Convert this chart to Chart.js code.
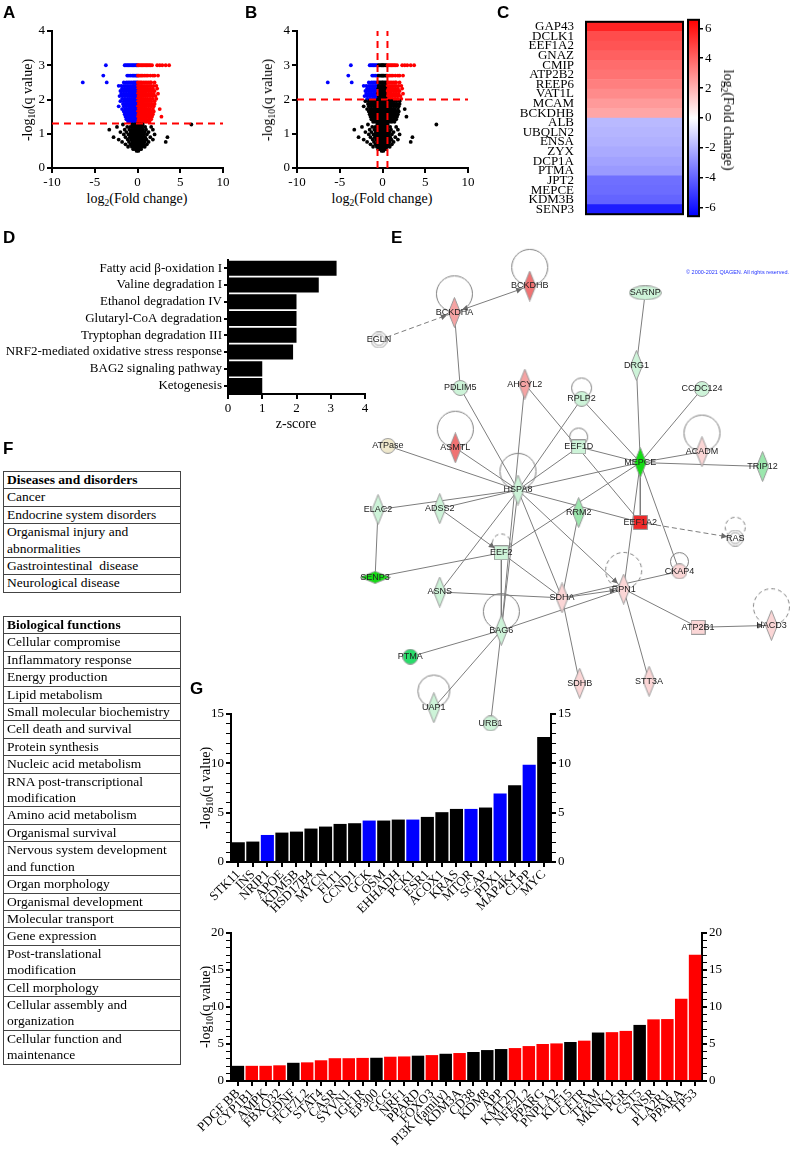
<!DOCTYPE html>
<html>
<head>
<meta charset="utf-8">
<script src="https://cdn.jsdelivr.net/npm/chart.js@4.4.1/dist/chart.umd.min.js"></script>
<style>
body{margin:0;background:#fff;}
#page{position:relative;width:796px;height:1152px;overflow:hidden;font-family:"Liberation Serif","Times New Roman",serif;color:#000;}
canvas{position:absolute;}
.lt{position:absolute;font:bold 17px/1 "Liberation Sans",Arial,sans-serif;}
.t{position:absolute;transform:translate(-50%,-50%);font-size:14px;line-height:1;white-space:nowrap;}
.t.rl{transform:translate(-50%,-50%) rotate(-90deg);}
.t.rr{transform:translate(-50%,-50%) rotate(90deg);}
sub{font-size:0.68em;vertical-align:-0.3em;line-height:0;}
table.f{position:absolute;left:3px;width:178px;border-collapse:collapse;font-size:13.5px;line-height:16.4px;}
table.f td{border:1px solid #444;padding:0 0 0 3px;white-space:nowrap;}
table.f td.h{font-weight:bold;}
.copy{position:absolute;left:686px;top:270px;font:5.5px/1 "Liberation Sans",Arial,sans-serif;color:#2233ff;white-space:nowrap;}
</style>
</head>
<body>
<div id="page">
<canvas id="cA" width="212" height="170" style="left:20px;top:20px"></canvas>
<canvas id="cB" width="212" height="170" style="left:265px;top:20px"></canvas>
<canvas id="cHeat" width="186" height="216" style="left:500px;top:10px"></canvas>
<canvas id="cScale" width="44" height="216" style="left:676px;top:10px"></canvas>
<canvas id="cD" width="375" height="174" style="left:0px;top:250px"></canvas>
<canvas id="cNet" width="466" height="520" style="left:330px;top:230px"></canvas>
<canvas id="cG1" width="410" height="217" style="left:170px;top:700px"></canvas>
<canvas id="cG2" width="561" height="231" style="left:170px;top:920px"></canvas>

<div class="t rl" style="left:28px;top:100px">-log<sub>10</sub>(q value)</div>
<div class="t" style="left:137px;top:199px">log<sub>2</sub>(Fold change)</div>
<div class="t rl" style="left:268px;top:100px">-log<sub>10</sub>(q value)</div>
<div class="t" style="left:382px;top:199px">log<sub>2</sub>(Fold change)</div>
<div class="t rr" style="left:728px;top:120px">log<sub>2</sub>(Fold change)</div>
<div class="t" style="left:296px;top:424px">z-score</div>
<div class="t rl" style="left:206px;top:788px">-log<sub>10</sub>(q value)</div>
<div class="t rl" style="left:206px;top:1007px">-log<sub>10</sub>(q value)</div>
<div class="copy">© 2000-2021 QIAGEN. All rights reserved.</div>

<table class="f" style="top:471px">
<tr><td class="h">Diseases and disorders</td></tr>
<tr><td>Cancer</td></tr>
<tr><td>Endocrine system disorders</td></tr>
<tr><td>Organismal injury and<br>abnormalities</td></tr>
<tr><td>Gastrointestinal&nbsp; disease</td></tr>
<tr><td>Neurological disease</td></tr>
</table>
<table class="f" style="top:616px">
<tr><td class="h">Biological functions</td></tr>
<tr><td>Cellular compromise</td></tr>
<tr><td>Inflammatory response</td></tr>
<tr><td>Energy production</td></tr>
<tr><td>Lipid metabolism</td></tr>
<tr><td>Small molecular biochemistry</td></tr>
<tr><td>Cell death and survival</td></tr>
<tr><td>Protein synthesis</td></tr>
<tr><td>Nucleic acid metabolism</td></tr>
<tr><td>RNA post-transcriptional<br>modification</td></tr>
<tr><td>Amino acid metabolism</td></tr>
<tr><td>Organismal survival</td></tr>
<tr><td>Nervous system development<br>and function</td></tr>
<tr><td>Organ morphology</td></tr>
<tr><td>Organismal development</td></tr>
<tr><td>Molecular transport</td></tr>
<tr><td>Gene expression</td></tr>
<tr><td>Post-translational<br>modification</td></tr>
<tr><td>Cell morphology</td></tr>
<tr><td>Cellular assembly and<br>organization</td></tr>
<tr><td>Cellular function and<br>maintenance</td></tr>
</table>

<div class="lt" style="left:3px;top:4px">A</div>
<div class="lt" style="left:245px;top:4px">B</div>
<div class="lt" style="left:497px;top:4px">C</div>
<div class="lt" style="left:3px;top:229px">D</div>
<div class="lt" style="left:391px;top:229px">E</div>
<div class="lt" style="left:3px;top:440px">F</div>
<div class="lt" style="left:190px;top:680px">G</div>
</div>

<script>
// ---- data ----
// volcano: rows of [ -log10(q), [log2 fold changes] ]
var volcanoRows = [
  [3.0, [-3.7,-1.5,-1.35,-1.2,-1.05,-0.9,-0.75,-0.6,-0.45,-0.3,-0.15,-0.05,0.05,0.15,0.3,0.45,0.6,0.75,0.9,1.05,1.2,1.35,1.5,1.7,2.3,2.6,2.9,3.3,3.7]],
  [2.7, [-4.0,-1.2,-1.0,-0.8,-0.6,-0.45,-0.3,-0.15,-0.05,0.05,0.15,0.3,0.45,0.6,0.8,1.0,1.2,1.5,1.8,2.0,2.4]],
  [2.5, [-6.4,-3.6,-1.6,-1.3,-1.1,-0.9,-0.7,-0.5,-0.35,-0.2,-0.05,0.05,0.2,0.35,0.5,0.7,0.9,1.1,1.3,1.5,1.6,2.0]],
  [2.4, [-2.2,-1.9,-1.6,-1.4,-1.2,-1.0,-0.8,-0.6,-0.45,-0.3,-0.15,-0.05,0.05,0.15,0.3,0.45,0.6,0.8,1.0,1.2,1.4,1.6,1.9,2.2]],
  [2.32, [-1.8,-1.5,-1.2,-0.95,-0.7,-0.5,-0.35,-0.2,-0.08,0.08,0.2,0.35,0.5,0.7,0.95,1.2,1.5,1.8,2.3]],
  [2.25, [-2.0,-1.7,-1.4,-1.1,-0.85,-0.6,-0.4,-0.25,-0.1,0.1,0.25,0.4,0.6,0.85,1.1,1.4,1.7,2.0]],
  [2.17, [-1.9,-1.6,-1.3,-1.0,-0.75,-0.55,-0.35,-0.18,-0.05,0.05,0.18,0.35,0.55,0.75,1.0,1.3,1.6,1.9,2.4]],
  [2.1, [-2.1,-1.75,-1.45,-1.15,-0.9,-0.65,-0.45,-0.28,-0.12,0.12,0.28,0.45,0.65,0.9,1.15,1.45,1.75,2.1]],
  [2.02, [-1.8,-1.5,-1.2,-0.95,-0.7,-0.5,-0.32,-0.16,-0.04,0.04,0.16,0.32,0.5,0.7,0.95,1.2,1.5,1.8,2.2]],
  [1.95, [-2.0,-1.6,-1.3,-1.05,-0.8,-0.6,-0.4,-0.22,-0.08,0.08,0.22,0.4,0.6,0.8,1.05,1.3,1.6,2.0]],
  [1.87, [-1.7,-1.4,-1.15,-0.9,-0.68,-0.48,-0.3,-0.14,0.14,0.3,0.48,0.68,0.9,1.15,1.4,1.7,2.0]],
  [1.8, [-2.2,-1.6,-1.3,-1.0,-0.78,-0.56,-0.38,-0.2,-0.06,0.06,0.2,0.38,0.56,0.78,1.0,1.3,1.6,1.9]],
  [1.72, [-1.8,-1.45,-1.15,-0.9,-0.66,-0.46,-0.28,-0.12,0.12,0.28,0.46,0.66,0.9,1.15,1.45,1.8,2.6]],
  [1.65, [-1.6,-1.3,-1.02,-0.78,-0.56,-0.38,-0.2,-0.06,0.06,0.2,0.38,0.56,0.78,1.02,1.3,1.6,1.9]],
  [1.57, [-1.5,-1.2,-0.92,-0.68,-0.46,-0.28,-0.12,0.12,0.28,0.46,0.68,0.92,1.2,1.5,1.8]],
  [1.5, [-1.4,-1.1,-0.84,-0.6,-0.4,-0.22,-0.06,0.06,0.22,0.4,0.6,0.84,1.1,1.4,1.7,2.8]],
  [1.42, [-1.3,-1.0,-0.75,-0.52,-0.32,-0.14,0.14,0.32,0.52,0.75,1.0,1.3,1.6]],
  [1.35, [-1.1,-0.85,-0.62,-0.42,-0.24,-0.08,0.08,0.24,0.42,0.62,0.85,1.1,1.4]],
  [1.27, [-1.7,-0.6,-0.35,-0.15,0.0,0.15,0.35,0.6,6.3]],
  [1.2, [-2.4,-1.2,-0.85,-0.55,-0.3,-0.1,0.1,0.3,0.55,0.9,1.6]],
  [1.12, [-3.3,-1.5,-0.95,-0.65,-0.4,-0.2,0.0,0.2,0.4,0.65,1.0,1.8]],
  [1.05, [-2.0,-1.3,-0.8,-0.5,-0.28,-0.08,0.12,0.32,0.55,0.85,1.3]],
  [0.98, [-1.6,-1.05,-0.7,-0.42,-0.18,0.02,0.22,0.45,0.75,1.1,2.0]],
  [0.9, [-2.8,-1.4,-0.9,-0.58,-0.32,-0.1,0.1,0.32,0.58,0.9,1.5,3.5]],
  [0.83, [-2.2,-1.15,-0.75,-0.46,-0.22,0.0,0.2,0.42,0.7,1.05,1.8]],
  [0.76, [-1.8,-1.0,-0.62,-0.36,-0.12,0.1,0.32,0.56,0.85,1.3,3.3]],
  [0.69, [-1.4,-0.82,-0.5,-0.25,-0.02,0.2,0.44,0.7,1.1]],
  [0.62, [-1.1,-0.66,-0.38,-0.14,0.08,0.3,0.55,0.85]],
  [0.55, [-0.5,-0.25,-0.02,0.2,0.42]],
  [0.5, [-0.1,0.1]]
];
var qCutA = 1.3, qCutB = 2, fcCutB = 0.58;

var heatGenes = ["GAP43","DCLK1","EEF1A2","GNAZ","CMIP","ATP2B2","REEP6","VAT1L","MCAM","BCKDHB",
                 "ALB","UBQLN2","ENSA","ZYX","DCP1A","PTMA","JPT2","MEPCE","KDM3B","SENP3"];
var heatFold = [5.7,4.6,4.4,4.1,3.8,3.6,3.3,3.0,2.6,2.3,-1.8,-1.9,-2.0,-2.2,-2.4,-2.6,-3.7,-3.8,-4.0,-5.8];
var foldLimit = 6.57;
var foldTicks = [-6,-5,-4,-3,-2,-1,0,1,2,3,4,5,6];

var pathways = ["Fatty acid \u03b2-oxidation I","Valine degradation I","Ethanol degradation IV","Glutaryl-CoA degradation",
                "Tryptophan degradation III","NRF2-mediated oxidative stress response","BAG2 signaling pathway","Ketogenesis"];
var zScores = [3.17,2.65,2.0,2.0,2.0,1.9,1.0,1.0];

var topGenes = ["STK11","INS","NRIP1","APOE","KDM5B","HSD17B4","MYCN","FLT1","CCND1","GCK","OSM","EHHADH",
                "PCK1","ESR1","ACOX1","KRAS","MTOR","SCAP","PDX1","MAP4K4","CLPP","MYC"];
var topQ = [2.0,2.07,2.74,2.98,3.08,3.39,3.59,3.86,3.93,4.2,4.2,4.3,4.3,4.57,5.05,5.38,5.38,5.52,6.94,7.79,9.85,12.66];
var topKind = ["n","n","b","n","n","n","n","n","n","b","n","n","b","n","n","n","b","n","b","n","b","n"];

var botGenes = ["PDGF BB","CYP1B1","AMPK","FBXO32","GDNF","TCF7L2","STAT4","CASR","SYVN1","IGF1R","EP300","GCG",
                "NRF1","PPARD","FOXO3","PI3K (family)","KDM3A","CD38","KDM8","APP","KMT2D","NFE2L2","PPARG",
                "PNPLA2","KLF15","CFTR","TFAM","MKNK1","PGR","CST5","INSR","PLA2R1","PPARA","TP53"];
var botQ = [2.05,2.05,2.05,2.12,2.46,2.52,2.8,3.08,3.08,3.12,3.14,3.28,3.32,3.42,3.5,3.68,3.78,3.92,4.18,4.32,
            4.45,4.72,5.0,5.08,5.27,5.45,6.55,6.6,6.77,7.58,8.33,8.37,11.1,17.05];
var botKind = ["n","r","r","r","n","r","r","r","r","r","n","r","r","n","r","n","r","n","n","n","r","r","r",
               "r","n","r","n","r","r","n","r","r","r","r"];

// network: [name, x, y, shape, tone] in layout units of panel E
var netNodes = [
  ["BCKDHB",199,52,"diamond","red2"],["BCKDHA",122,79,"diamond","red1"],["EGLN",45,107,"ring","white"],
  ["SARNP",317,59,"ellipse","green1"],["DRG1",308,133,"diamond","green1"],["PDLIM5",128,156,"circle","green1"],
  ["AHCYL2",194,152,"diamond","red1"],["RPLP2",252,167,"circle","green1"],["CCDC124",375,157,"circle","green1"],
  ["ATPase",54,215,"circle","beige"],["ASMTL",123,217,"diamond","red2"],["EEF1D",249,216,"square","green1"],
  ["MEPCE",312,232,"diamond","green3"],["ACADM",375,221,"diamond","pink"],["TRIP12",437,236,"diamond","green2"],
  ["HSPA8",187,260,"diamond","green1"],["ELAC2",44,280,"diamond","green1"],["ADSS2",107,279,"diamond","green1"],
  ["RRM2",249,283,"diamond","green2"],["EEF1A2",312,293,"square","red3"],["RAS",409,309,"ring","white"],
  ["EEF2",170,324,"square","green1"],["SENP3",41,349,"hdiamond","green3"],["CKAP4",352,343,"circle","pink"],
  ["ASNS",107,364,"diamond","green1"],["SDHA",232,370,"diamond","pink"],["RPN1",295,361,"diamond","pink"],
  ["BAG6",170,403,"diamond","green1"],["ATP2B1",371,400,"square","pink"],["HACD3",446,398,"diamond","pink"],
  ["PTMA",77,430,"circle","green4"],["SDHB",250,457,"diamond","pink"],["STT3A",321,455,"diamond","pink"],
  ["UAP1",101,482,"diamond","green1"],["URB1",159,498,"circle","green1"]
];
// edges: [from, to, style]  "" solid, "a" arrow, "d" dashed, "da" dashed arrow, "aa" both ends
var netEdges = [
  ["BCKDHA","BCKDHB","aa"],["EGLN","BCKDHA","da"],["BCKDHA","PDLIM5",""],["PDLIM5","HSPA8",""],
  ["AHCYL2","BAG6",""],["AHCYL2","EEF1A2",""],["RPLP2","HSPA8",""],["RPLP2","MEPCE",""],
  ["SARNP","DRG1",""],["DRG1","MEPCE",""],["CCDC124","MEPCE",""],["ATPase","HSPA8",""],
  ["ASMTL","HSPA8",""],["EEF1D","HSPA8",""],["EEF1D","MEPCE",""],["MEPCE","ACADM",""],
  ["MEPCE","TRIP12",""],["MEPCE","HSPA8",""],["MEPCE","EEF1A2",""],["MEPCE","EEF2",""],
  ["MEPCE","CKAP4",""],["MEPCE","RPN1",""],["HSPA8","ELAC2",""],["HSPA8","ADSS2",""],
  ["HSPA8","EEF1A2",""],["HSPA8","ASNS",""],["HSPA8","BAG6",""],["HSPA8","SDHA",""],
  ["HSPA8","RPN1","a"],["ADSS2","EEF2","a"],["ELAC2","SENP3",""],["SENP3","EEF2",""],
  ["EEF2","BAG6",""],["EEF2","SDHA",""],["RRM2","SDHA",""],["EEF1A2","RAS","da"],
  ["ASNS","SDHA",""],["SDHA","RPN1","a"],["SDHA","CKAP4",""],["SDHA","SDHB",""],
  ["RPN1","STT3A",""],["RPN1","ATP2B1",""],["RPN1","BAG6",""],["ATP2B1","HACD3","a"],
  ["PTMA","BAG6",""],["BAG6","UAP1",""],["BAG6","URB1",""]
];
// self loops: [node, radius, dashed]
var netLoops = [
  ["BCKDHB",18,false],["BCKDHA",18,false],["RPLP2",10,false],["ASMTL",18,false],["EEF1D",9,false],
  ["ACADM",18,false],["HSPA8",18,false],["EEF2",9,true],["RAS",10,true],["CKAP4",9,false],
  ["RPN1",18,true],["BAG6",18,false],["HACD3",18,true],["UAP1",16,false]
];

// ---- setup ----
Chart.defaults.font.family = '"Liberation Serif","Times New Roman",serif';
Chart.defaults.font.size = 13;
Chart.defaults.color = "#000";
Chart.defaults.animation = false;
Chart.defaults.responsive = false;
Chart.defaults.plugins.legend.display = false;
Chart.defaults.plugins.tooltip.enabled = false;

function axis(o) {
  var r = Object.assign({}, o);
  r.border = Object.assign({color: "#000", width: 2}, o.border || {});
  r.grid = Object.assign({drawOnChartArea: false, drawTicks: true, tickLength: 5, color: "#000", lineWidth: 2}, o.grid || {});
  r.ticks = Object.assign({color: "#000", padding: 2, font: {size: 13}}, o.ticks || {});
  return r;
}

var framePlugin = {
  id: "frame",
  afterDatasetsDraw: function(chart) {
    var a = chart.chartArea, c = chart.ctx;
    c.save(); c.strokeStyle = "#000"; c.lineWidth = 2;
    c.strokeRect(a.left, a.top, a.right - a.left, a.bottom - a.top);
    c.restore();
  }
};

function foldColor(v) {
  var t = Math.min(1, Math.abs(v) / foldLimit), k = Math.round(255 * (1 - t));
  return v > 0 ? "rgb(255," + k + "," + k + ")" : "rgb(" + k + "," + k + ",255)";
}

// ---- A, B volcano ----
var volcanoPoints = [];
volcanoRows.forEach(function(row) {
  row[1].forEach(function(x) { volcanoPoints.push({x: x, y: row[0]}); });
});

function volcano(id, yCut, xCut, lines) {
  var cols = volcanoPoints.map(function(p) {
    if (p.y > yCut && p.x < -xCut) return "#0000ff";
    if (p.y > yCut && p.x > xCut) return "#ff0000";
    return "#000000";
  });
  var sets = [{data: volcanoPoints, pointBackgroundColor: cols, pointBorderWidth: 0, pointRadius: 1.9, order: 2}];
  lines.forEach(function(l) {
    sets.push({data: l, showLine: true, borderColor: "#ff0000", borderWidth: 2, borderDash: [7, 5], pointRadius: 0, order: 1});
  });
  new Chart(document.getElementById(id), {
    type: "scatter",
    data: {datasets: sets},
    options: {
      layout: {padding: {top: 11, right: 9}},
      scales: {
        x: axis({min: -10, max: 10, ticks: {stepSize: 5}, afterFit: function(s) { s.height = 22; }}),
        y: axis({min: 0, max: 4, ticks: {stepSize: 1}, afterFit: function(s) { s.width = 32; }})
      }
    }
  });
}
volcano("cA", qCutA, 0, [[{x: -10, y: qCutA}, {x: 10, y: qCutA}]]);
volcano("cB", qCutB, fcCutB, [
  [{x: -10, y: qCutB}, {x: 10, y: qCutB}],
  [{x: -fcCutB, y: 0}, {x: -fcCutB, y: 4}],
  [{x: fcCutB, y: 0}, {x: fcCutB, y: 4}]
]);

// ---- C heatmap + colour scale ----
new Chart(document.getElementById("cHeat"), {
  type: "bar",
  data: {labels: heatGenes, datasets: [{
    data: heatGenes.map(function() { return [0, 1]; }),
    backgroundColor: heatFold.map(foldColor),
    barPercentage: 1, categoryPercentage: 1, borderWidth: 0
  }]},
  options: {
    indexAxis: "y",
    layout: {padding: {top: 6, right: 3, bottom: 3}},
    scales: {
      x: {display: false, min: 0, max: 1},
      y: {grid: {display: false}, border: {display: false},
          ticks: {autoSkip: false, padding: 4, font: {size: 13}, color: "#000"},
          afterFit: function(s) { s.width = 86; }}
    }
  },
  plugins: [framePlugin]
});

new Chart(document.getElementById("cScale"), {
  type: "bar",
  data: {labels: [""], datasets: [{
    data: [[-foldLimit, foldLimit]],
    backgroundColor: function(ctx) {
      var ch = ctx.chart;
      if (!ch.chartArea) return "#fff";
      var y = ch.scales.y;
      var g = ch.ctx.createLinearGradient(0, y.getPixelForValue(foldLimit), 0, y.getPixelForValue(-foldLimit));
      g.addColorStop(0, "#ff0000"); g.addColorStop(0.5, "#ffffff"); g.addColorStop(1, "#0000ff");
      return g;
    },
    barPercentage: 1, categoryPercentage: 1, borderWidth: 0
  }]},
  options: {
    layout: {padding: {top: 6, left: 12, bottom: 3}},
    scales: {
      x: {display: false},
      y: axis({position: "right", min: -foldLimit, max: foldLimit,
        border: {display: false},
        grid: {tickLength: 4, lineWidth: function(ctx) { return ctx.tick && ctx.tick.value % 2 === 0 ? 1.5 : 1; }},
        ticks: {callback: function(v) { return v % 2 === 0 ? v : ""; }},
        afterBuildTicks: function(s) { s.ticks = foldTicks.map(function(v) { return {value: v}; }); },
        afterFit: function(s) { s.width = 21; }})
    }
  },
  plugins: [framePlugin]
});

// ---- D pathways ----
new Chart(document.getElementById("cD"), {
  type: "bar",
  data: {labels: pathways, datasets: [{data: zScores, backgroundColor: "#000", barPercentage: 1, categoryPercentage: 0.9}]},
  options: {
    indexAxis: "y",
    layout: {padding: {top: 9, right: 10}},
    scales: {
      x: axis({min: 0, max: 4, ticks: {stepSize: 1}, afterFit: function(s) { s.height = 30; }}),
      y: axis({grid: {offset: false, tickLength: 4}, ticks: {autoSkip: false, padding: 2},
               afterFit: function(s) { s.width = 228; }})
    }
  }
});

// ---- E network ----
var tones = {red3: "#ee2a2a", red2: "#f07272", red1: "#f5a3a3", pink: "#fbd6d6", green3: "#14dc14",
             green4: "#28dc6a", green2: "#9be7ad", green1: "#cdf3d8", white: "#ffffff", beige: "#efe8cc"};
var shapeSize = {diamond: [13, 31], hdiamond: [31, 13], circle: [16, 16], ellipse: [33, 15], square: [15, 15], ring: [17, 17]};

function shapeCanvas(kind, fill) {
  var d = shapeSize[kind], c = document.createElement("canvas");
  c.width = d[0]; c.height = d[1];
  var g = c.getContext("2d"), w = d[0] - 1, h = d[1] - 1, cx = d[0] / 2, cy = d[1] / 2;
  g.fillStyle = fill; g.strokeStyle = "#9a9a9a"; g.lineWidth = 1;
  g.beginPath();
  if (kind === "diamond" || kind === "hdiamond") {
    g.moveTo(cx, 0.5); g.lineTo(w + 0.5, cy); g.lineTo(cx, h + 0.5); g.lineTo(0.5, cy); g.closePath();
  } else if (kind === "circle" || kind === "ring") {
    g.arc(cx, cy, w / 2, 0, Math.PI * 2);
  } else if (kind === "ellipse") {
    g.ellipse(cx, cy, w / 2, h / 2, 0, 0, Math.PI * 2);
  } else {
    g.rect(0.5, 0.5, w, h);
  }
  g.fill(); g.stroke();
  if (kind === "ring") { g.beginPath(); g.arc(cx, cy, w / 2 - 2.5, 0, Math.PI * 2); g.stroke(); }
  return c;
}
function loopCanvas(r, dashed) {
  var c = document.createElement("canvas");
  c.width = c.height = 2 * r + 3;
  var g = c.getContext("2d");
  g.strokeStyle = "#7d7d7d"; g.lineWidth = 1;
  if (dashed) g.setLineDash([4, 3]);
  g.beginPath(); g.arc(r + 1.5, r + 1.5, r, 0, Math.PI * 2); g.stroke();
  return c;
}

var nodeAt = {};
netNodes.forEach(function(n) { nodeAt[n[0]] = {x: n[1], y: n[2]}; });

var netSets = [];
netEdges.forEach(function(e) {
  netSets.push({data: [nodeAt[e[0]], nodeAt[e[1]]], showLine: true, borderColor: "#7d7d7d", borderWidth: 1,
                borderDash: e[2].indexOf("d") >= 0 ? [5, 3] : [], pointRadius: 0, order: 3});
});
netSets.push({
  data: netLoops.map(function(l) { var p = nodeAt[l[0]]; return {x: p.x, y: p.y - l[1] - 1}; }),
  pointStyle: netLoops.map(function(l) { return loopCanvas(l[1], l[2]); }),
  pointRadius: 3, order: 2
});
netSets.push({
  data: netNodes.map(function(n) { return nodeAt[n[0]]; }),
  pointStyle: netNodes.map(function(n) { return shapeCanvas(n[3], tones[n[4]]); }),
  pointRadius: 3, order: 1
});

var netPlugin = {
  id: "netText",
  afterDatasetsDraw: function(chart) {
    var c = chart.ctx, sx = chart.scales.x, sy = chart.scales.y;
    c.save();
    c.fillStyle = "#6a6a6a";
    netEdges.forEach(function(e) {
      if (e[2].indexOf("a") < 0) return;
      var a = nodeAt[e[0]], b = nodeAt[e[1]];
      var pa = [sx.getPixelForValue(a.x), sy.getPixelForValue(a.y)];
      var pb = [sx.getPixelForValue(b.x), sy.getPixelForValue(b.y)];
      var ends = e[2] === "aa" ? [[pa, pb], [pb, pa]] : [[pa, pb]];
      ends.forEach(function(pr) {
        var f = pr[0], t = pr[1], dx = t[0] - f[0], dy = t[1] - f[1], L = Math.sqrt(dx * dx + dy * dy);
        var ux = dx / L, uy = dy / L, tx = t[0] - ux * 8, ty = t[1] - uy * 8;
        c.beginPath();
        c.moveTo(tx, ty);
        c.lineTo(tx - ux * 6 - uy * 3, ty - uy * 6 + ux * 3);
        c.lineTo(tx - ux * 6 + uy * 3, ty - uy * 6 - ux * 3);
        c.closePath(); c.fill();
      });
    });
    c.fillStyle = "#222";
    c.font = '9px "Liberation Sans", Arial, sans-serif';
    c.textAlign = "center"; c.textBaseline = "middle";
    netNodes.forEach(function(n) {
      c.fillText(n[0], sx.getPixelForValue(n[1]), sy.getPixelForValue(n[2]));
    });
    c.restore();
  }
};

new Chart(document.getElementById("cNet"), {
  type: "scatter",
  data: {datasets: netSets},
  options: {
    layout: {padding: 0},
    scales: {
      x: {display: false, min: 0, max: 466},
      y: {display: false, min: 0, max: 520, reverse: true}
    }
  },
  plugins: [netPlugin]
});

// ---- G upstream regulators ----
var kindColor = {n: "#000000", b: "#0000ff", r: "#ff0000"};
function regulatorChart(id, labels, values, kinds, maxY, bottomH, topPad) {
  var yOpts = function(pos, w) {
    return axis({position: pos, min: 0, max: maxY,
      grid: {lineWidth: function(ctx) { return ctx.tick && ctx.tick.value % 5 === 0 ? 2 : 1; }},
      ticks: {stepSize: 1, autoSkip: false, callback: function(v) { return v % 5 === 0 ? v : ""; }},
      afterFit: function(s) { s.width = w; }});
  };
  new Chart(document.getElementById(id), {
    type: "bar",
    data: {labels: labels, datasets: [{data: values, backgroundColor: kinds.map(function(k) { return kindColor[k]; }),
           barPercentage: 0.9, categoryPercentage: 1}]},
    options: {
      layout: {padding: {top: topPad}},
      scales: {
        x: axis({grid: {offset: false, tickLength: 5}, ticks: {autoSkip: false, minRotation: 45, maxRotation: 45, padding: 0},
                 afterFit: function(s) { s.height = bottomH; }}),
        y: yOpts("left", 61),
        y2: yOpts("right", 29)
      }
    }
  });
}
regulatorChart("cG1", topGenes, topQ, topKind, 15, 55, 14);
regulatorChart("cG2", botGenes, botQ, botKind, 20, 70, 13);
</script>
</body>
</html>
